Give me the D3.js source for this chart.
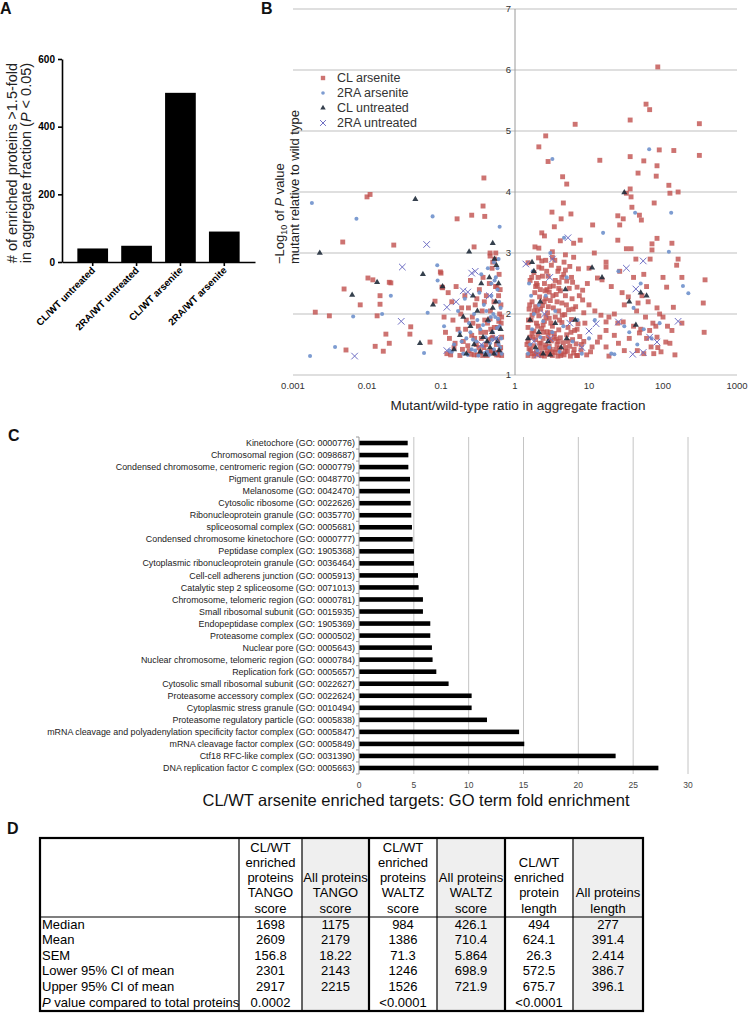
<!DOCTYPE html>
<html><head><meta charset="utf-8">
<script src="https://cdn.jsdelivr.net/npm/d3@7"></script>
<style>body{margin:0;background:#fff}svg{display:block;font-family:"Liberation Sans",Arial,Helvetica,sans-serif}</style>
</head><body><svg id="fig" width="750" height="1013"></svg>
<script>
// ---------- Panel A data ----------
const aCategories = ["CL/WT untreated","2RA/WT untreated","CL/WT arsenite","2RA/WT arsenite"];
const aValues = [40,48,500,90];
const aTicks = [0,200,400,600];

// ---------- Panel B data ([ratio, -log10 P]) ----------
const bSeriesNames = ["CL arsenite","2RA arsenite","CL untreated","2RA untreated"];
const clArsenite = [
[85,6.05],[59,5.44],[66,5.35],[36,5.18],[6.5,5.11],[310,5.12],[2.6,4.92],[2.1,4.74],[2.8,4.5],[14,4.52],[36,4.58],[55,4.51],[83,4.43],[89,4.69],[140,4.68],[310,4.6],[4.4,4.25],[5,4.13],[46,4.31],[81,4.26],[36,4.05],[120,4.11],[124,3.98],[160,4.0],[37,3.92],[0.38,4.23],[0.01,3.92],[0.011,3.96],
[0.0047,3.18],[0.165,3.56],[0.26,3.62],[0.39,3.6],[0.37,3.77],[0.023,3.13],[0.28,3.1],[0.46,3.0],[0.46,2.95],[0.1,2.67],[0.105,2.43],
[0.0052,1.41],[0.002,2.03],[0.0031,1.97],[0.0049,2.41],[0.0081,2.15],[0.0103,2.59],[0.012,2.56],[0.015,2.3],[0.015,2.16],[0.0137,1.97],[0.018,1.67],[0.02,1.52],[0.0129,1.47],[0.0166,1.39],[0.02,2.52],[0.021,2.51],[0.039,1.79],[0.038,1.67],[0.071,1.54],[0.083,2.21],[0.098,2.69],[0.103,2.44],
[4.5,3.82],[3.16,3.67],[5.7,3.64],[4.2,3.56],[3.4,3.43],[11.2,3.46],[32,3.98],[24.5,3.61],[29,3.56],[38,3.75],[48,3.62],[51,3.54],[76,3.82],[83,3.24],[71,3.15],[132,3.16],[71,3.05],[32,3.07],[37,3.07],[24.5,3.21],[26,3.46],[160,2.9],[153,2.8],[180,2.6],[370,2.56],[350,2.18],[360,1.7],[180,1.85],[138,2.11],[112,2.44],[100,2.6],[132,1.73],[124,1.52],[109,1.54],[145,1.33],[94,1.38],[83,1.62],[66,1.73],[73,1.85],[58,1.95],[83,2.1],[63,2.2],[46,2.18],[34,2.28],[29,1.87],[24.5,1.85],[48,1.69],[69,1.46],[25,1.52],[17,1.87],[17,1.73],[14.5,1.98],[18.6,1.95],[18.6,1.31],[17,1.46],[13,1.54],[14,1.62],[11,1.46],[9.3,1.33],[13,2.59],[15,2.56],[17,2.77],[17,2.85],[11.8,3.0],[10,2.75],[8.2,2.39],[10,2.15],[8.2,2.23],[8.5,2.02],
[2.3,3.33],[2.5,3.28],[1.86,3.1],[2.1,3.08],[4.1,3.2],[6.2,3.16],[7.6,3.21],[3.2,3.02],[3.2,2.93],[4.8,2.97],[6.2,2.93],[2.3,2.87],[1.5,2.84],[2.1,2.77],[3.9,2.75],[4.8,2.72],[7.2,2.74],[5,2.54],[5.8,2.6],[6.9,2.44],[3.9,2.42],[2.7,2.4],[2.0,2.47],
[40,1.8],[44,2.05],[52,2.3],[60,2.45],[30,2.15],[35,1.6],[45,1.4],[55,1.35],[75,1.35],[85,1.45],[100,1.95],[115,1.8],[60,1.6],[80,1.8],[90,2.0],[50,1.75],[28,2.35],[40,2.6],[55,2.65],[67,2.9],[43,2.9],[22,2.0],[22,1.65],[20,2.45],[26,2.7],[30,1.4],
[1.5,1.32],[1.65,1.35],[1.8,1.31],[1.95,1.38],[2.1,1.33],[2.3,1.36],[2.5,1.31],[2.7,1.4],[2.9,1.34],[3.2,1.32],[3.5,1.37],[3.8,1.31],[4.2,1.35],[4.6,1.33],[5.1,1.39],[5.6,1.31],[6.2,1.36],[7.0,1.32],[7.8,1.41],[1.55,1.43],[2.2,1.44],[3.0,1.42],[4.0,1.44],[6.8,1.32],
[1.5,1.55],[1.6,1.62],[1.75,1.48],[1.9,1.58],[2.05,1.66],[2.25,1.52],[2.4,1.6],[2.6,1.49],[2.8,1.64],[3.1,1.56],[3.4,1.68],[3.7,1.5],[4.1,1.61],[4.5,1.53],[5.0,1.66],[5.5,1.47],[6.0,1.58],[6.7,1.51],[7.5,1.63],[8.5,1.55],[1.7,1.69],[2.9,1.47],[3.6,1.59],[4.8,1.45],
[1.5,1.78],[1.65,1.9],[1.8,1.72],[1.95,1.85],[2.1,1.97],[2.3,1.76],[2.5,1.88],[2.7,1.71],[2.9,1.93],[3.2,1.8],[3.5,1.95],[3.9,1.74],[4.3,1.86],[4.7,1.99],[5.2,1.78],[5.8,1.91],[6.4,1.73],[7.1,1.84],[1.7,1.98],[2.4,1.82],[3.0,1.7],[4.0,1.9],
[1.55,2.08],[1.7,2.2],[1.85,2.35],[2.0,2.05],[2.15,2.28],[2.35,2.14],[2.55,2.38],[2.75,2.02],[3.0,2.22],[3.3,2.1],[3.6,2.32],[3.9,2.05],[4.3,2.18],[4.8,2.3],[5.3,2.07],[5.9,2.25],[6.6,2.12],[2.2,2.4],[2.9,2.36],[4.1,2.38],[1.9,2.12],[2.6,2.25],
[1.6,2.55],[1.8,2.68],[2.05,2.6],[2.3,2.75],[2.5,2.5],[2.8,2.62],[3.1,2.8],[3.5,2.55],[3.8,2.7],[4.3,2.6],[4.6,2.85],[5.5,2.78],[6.0,2.52],[1.9,2.45],[2.6,2.88],[3.3,2.46],
[1.45,1.5],[1.52,1.9],[1.58,2.15],[1.62,1.4],[1.68,2.6],[1.75,1.62],[1.82,2.05],[1.88,1.35],[1.95,2.5],[2.02,1.8],[2.08,2.92],[2.15,1.52],[2.22,2.08],[2.28,1.32],[2.35,2.62],[2.42,1.7],[2.48,2.2],[2.55,1.45],[2.62,1.95],[2.68,2.7],[2.75,1.35],[2.82,2.12],[2.88,1.58],[2.95,2.45],[3.05,1.85],[3.15,1.38],[3.25,2.3],[3.38,1.62],[3.45,2.88],[3.55,1.42],[3.7,2.2],[3.85,1.55],[3.95,2.52],[4.15,1.32],[4.35,1.98],[4.55,2.65],[4.75,1.38],[4.95,2.15],[5.2,1.55],[5.4,2.42],[5.7,1.7],[6.1,2.08],[6.3,1.42],[6.9,1.75],[7.4,2.3],[7.9,1.5],[8.8,1.85],[9.5,2.5],[10.5,1.38],[12,2.05],
[0.12,1.35],[0.13,1.6],[0.15,1.45],[0.17,1.75],[0.18,1.32],[0.2,1.55],[0.22,1.9],[0.24,1.4],[0.26,1.65],[0.28,1.33],[0.3,1.5],[0.32,1.8],[0.34,1.37],[0.36,2.05],[0.38,1.45],[0.4,1.7],[0.42,1.32],[0.44,1.58],[0.46,1.92],[0.48,1.4],[0.5,1.62],[0.52,2.2],[0.54,1.35],[0.56,1.5],[0.58,1.78],[0.6,1.33],[0.62,2.0],[0.64,1.45],[0.66,1.62],[0.11,1.95],[0.14,2.2],[0.16,2.45],[0.19,2.1],[0.21,2.3],[0.25,2.55],[0.29,2.15],[0.33,2.4],[0.37,2.6],[0.41,2.3],[0.45,2.5],[0.49,2.75],[0.53,2.9],[0.57,2.45],[0.61,2.65],[0.55,3.0],[0.5,2.85],[0.65,1.85],[0.35,1.6],[0.27,1.85],[0.23,1.48],[0.47,1.75],[0.6,2.3],[0.43,1.38],[0.31,1.33],[0.39,1.9],[0.57,1.37],[0.63,2.4],[0.66,1.95],
[0.115,1.7],[0.125,2.35],[0.135,1.33],[0.145,1.9],[0.155,1.52],[0.185,2.0],[0.195,1.42],[0.215,1.75],[0.235,2.1],[0.255,1.34],[0.265,1.95],[0.285,1.6],[0.305,2.25],[0.325,1.45],[0.345,1.7],[0.365,1.32],[0.385,2.2],[0.405,1.5],[0.425,1.85],[0.445,1.36],[0.465,2.05],[0.485,1.6],[0.505,1.38],[0.525,1.78],[0.545,2.45],[0.565,1.33],[0.585,1.58],[0.605,1.88],[0.625,1.4],[0.645,2.15],[0.66,1.32]
];
const ra2Arsenite = [
[0.0018,3.82],[0.0072,3.56],[0.077,3.6],[3.2,4.54],[65,4.7],[15.5,3.33],[42,3.66],[129,3.66],[120,3.02],[186,2.46],[220,2.34],[35,1.7],[22,1.34],[1.74,2.7],[0.0017,1.31],[0.0037,1.46],[0.0065,1.96],[0.016,2.0],[0.021,2.3],[0.059,1.36],[0.066,2.02],[0.089,2.8],
[0.62,3.43],[0.6,2.9],[0.58,2.75],[0.55,2.6],[0.52,2.85],[0.48,2.5],[0.09,2.55],
[0.15,1.5],[0.18,1.7],[0.2,1.35],[0.22,1.6],[0.24,1.85],[0.26,1.42],[0.28,2.0],[0.3,1.55],[0.32,1.32],[0.34,1.75],[0.36,1.48],[0.38,2.15],[0.4,1.62],[0.42,1.38],[0.44,1.88],[0.46,1.52],[0.48,2.3],[0.5,1.7],[0.52,1.42],[0.54,1.95],[0.56,1.6],[0.58,2.4],[0.6,1.5],[0.62,1.8],[0.64,2.1],[0.66,1.35],[0.13,1.4],[0.17,2.05],[0.21,2.25],[0.25,1.7],[0.29,1.4],[0.33,2.35],[0.37,1.82],[0.41,2.05],[0.45,1.33],[0.49,1.58],[0.53,2.55],[0.57,1.77],[0.61,2.2],[0.65,1.6],[0.55,1.35],[0.47,1.95],[0.39,1.36],[0.31,1.9],[0.35,2.65],[0.43,2.75],[0.51,2.0],[0.59,1.92],[0.63,1.45],[0.27,1.58],[0.23,1.33],[0.19,1.55],[0.11,1.8],[0.14,1.38],
[1.5,1.35],[1.6,1.5],[1.7,1.75],[1.8,2.0],[2.0,1.4],[2.2,1.62],[2.4,1.88],[2.6,2.3],[2.9,1.45],[3.2,1.7],[3.5,2.05],[4.0,1.38],[4.5,1.8],[5.0,2.6],[6.0,1.55],[7.0,1.9],[1.55,2.5],[2.1,2.15],[3.0,3.0],[8.0,1.35],[10,1.6],[12,1.9],[20,1.35],[30,1.8],[40,2.1],[50,2.5],[55,1.75],[70,1.6],[90,1.85],[45,1.5],[1.65,2.3],[4.6,3.25],[25,2.7]
];
const clUntreated = [
[30,3.99],[0.045,3.88],[0.0023,3.0],[0.0063,2.31],[0.0137,2.52],[0.052,1.52],[0.057,2.65],[0.078,2.15],[0.105,2.45],[0.24,3.02],[0.5,3.16],
[0.15,1.42],[0.18,1.65],[0.22,1.35],[0.25,1.8],[0.28,1.5],[0.31,2.05],[0.34,1.38],[0.37,1.62],[0.4,1.33],[0.43,1.9],[0.46,1.45],[0.49,1.7],[0.52,1.35],[0.55,2.2],[0.58,1.55],[0.61,1.4],[0.64,1.75],[0.27,2.3],[0.35,2.5],[0.45,2.6],[0.5,2.1],[0.2,1.95],[0.6,2.5],[0.42,1.55],[0.56,2.8],[0.53,2.9],
[1.6,1.9],[1.9,1.45],[2.1,1.7],[2.4,1.35],[2.8,1.55],[3.5,1.85],[4.2,1.45],[1.8,2.7],[2.2,2.2],[3.0,1.33],[5,1.6],[6.5,1.9],[4.8,2.4],[11,2.76],[43,1.82],[50,2.35],[60,2.3],[35,2.2],[1.5,1.6],[15,2.6],[1.7,2.85]
];
const ra2Untreated = [
[0.064,3.14],[0.03,2.77],[0.029,1.88],[0.0068,1.31],[54,2.87],[32,2.75],[43,2.41],[160,1.88],[39,1.34],[54,1.37],[66,1.62],[83,1.54],[25,1.87],[12.5,1.84],[10,1.72],[5.2,3.25],[3.2,2.9],[1.4,2.82],[2.95,2.6],
[0.26,2.67],[0.29,2.7],[0.12,2.11],[0.23,2.36],[0.2,2.38],[0.16,2.2],[0.45,2.3],[0.12,1.4],[0.55,1.6],[0.35,1.5],[2.0,1.33],[3.0,1.6],[5.5,1.85],[8,1.45],[2.5,2.0],[1.8,1.55]
];
const bXTicks = [0.001,0.01,0.1,1,10,100,1000];
const bXTickLabels = ["0.001","0.01","0.1","1","10","100","1000"];
const bYTicks = [1,2,3,4,5,6,7];

// ---------- Panel C data ----------
const goTerms = [
"Kinetochore (GO: 0000776)","Chromosomal region (GO: 0098687)","Condensed chromosome, centromeric region (GO: 0000779)","Pigment granule (GO: 0048770)","Melanosome (GO: 0042470)","Cytosolic ribosome (GO: 0022626)","Ribonucleoprotein granule (GO: 0035770)","spliceosomal complex (GO: 0005681)","Condensed chromosome kinetochore (GO: 0000777)","Peptidase complex (GO: 1905368)","Cytoplasmic ribonucleoprotein granule (GO: 0036464)","Cell-cell adherens junction (GO: 0005913)","Catalytic step 2 spliceosome (GO: 0071013)","Chromosome, telomeric region (GO: 0000781)","Small ribosomal subunit (GO: 0015935)","Endopeptidase complex (GO: 1905369)","Proteasome complex (GO: 0000502)","Nuclear pore (GO: 0005643)","Nuclear chromosome, telomeric region (GO: 0000784)","Replication fork (GO: 0005657)","Cytosolic small ribosomal subunit (GO: 0022627)","Proteasome accessory complex (GO: 0022624)","Cytoplasmic stress granule (GO: 0010494)","Proteasome regulatory particle (GO: 0005838)","mRNA cleavage and polyadenylation specificity factor complex (GO: 0005847)","mRNA cleavage factor complex (GO: 0005849)","Ctf18 RFC-like complex (GO: 0031390)","DNA replication factor C complex (GO: 0005663)"];
const goFold = [4.44,4.5,4.5,4.65,4.65,4.71,4.77,4.83,4.89,5.01,5.01,5.38,5.44,5.83,5.83,6.5,6.5,6.65,6.71,7.05,8.17,10.27,10.27,11.67,14.6,15.07,23.4,27.3];
const cTicks = [0,5,10,15,20,25,30];

// ---------- Panel D data ----------
const dHeaders = [[],["CL/WT","enriched","proteins","TANGO","score"],["All proteins","TANGO","score"],["CL/WT","enriched","proteins","WALTZ","score"],["All proteins","WALTZ","score"],["CL/WT","enriched","protein","length"],["All proteins","length"]];
const dRowLabels = ["Median","Mean","SEM","Lower 95% CI of mean","Upper 95% CI of mean","P value compared to total proteins"];
const tangoEnriched = ["1698","2609","156.8","2301","2917","0.0002"];
const tangoAll = ["1175","2179","18.22","2143","2215",""];
const waltzEnriched = ["984","1386","71.3","1246","1526","<0.0001"];
const waltzAll = ["426.1","710.4","5.864","698.9","721.9",""];
const lengthEnriched = ["494","624.1","26.3","572.5","675.7","<0.0001"];
const lengthAll = ["277","391.4","2.414","386.7","396.1",""];

const svg = d3.select("#fig");

// panel letters
[["A",0,14],["B",261,14],["C",8,441],["D",7,834]].forEach(([t,x,y])=>{
  svg.append("text").attr("x",x).attr("y",y).attr("font-size",16).attr("font-weight","bold").attr("fill","#111").text(t);
});

// ================= Panel A =================
{
  const g = svg.append("g");
  const y = d3.scaleLinear().domain([0,600]).range([262,59]);
  const x = d3.scaleBand().domain(aCategories).range([62,255]).paddingInner(0.3).paddingOuter(0.35);
  g.selectAll("rect").data(aValues).join("rect")
    .attr("x",(d,i)=>x(aCategories[i])).attr("width",x.bandwidth())
    .attr("y",d=>y(d)).attr("height",d=>y(0)-y(d)).attr("fill","#000");
  const ya = g.append("g").attr("transform","translate(62,0)")
    .call(d3.axisLeft(y).tickValues(aTicks).tickSize(4).tickSizeOuter(0).tickPadding(3));
  ya.selectAll("text").attr("font-size",10).attr("font-weight","bold").attr("font-family","Liberation Sans, Arial").attr("fill","#000");
  ya.selectAll("line,path").attr("stroke","#000").attr("stroke-width",1.6);
  const xa = g.append("g").attr("transform","translate(0,262)")
    .call(d3.axisBottom(x).tickSize(4).tickSizeOuter(0));
  xa.selectAll("line,path").attr("stroke","#000").attr("stroke-width",1.6);
  xa.selectAll("text").attr("font-size",9.8).attr("font-weight","bold").attr("font-family","Liberation Sans, Arial").attr("fill","#000")
    .attr("text-anchor","end").attr("dy",0).attr("y",0)
    .attr("transform","translate(3,9) rotate(-45)");
  const t = g.append("text").attr("transform","translate(17,163) rotate(-90)").attr("text-anchor","middle").attr("font-size",14.5).attr("fill","#222");
  t.text("# of enriched proteins >1.5-fold");
  const t2 = g.append("text").attr("transform","translate(31,163) rotate(-90)").attr("text-anchor","middle").attr("font-size",14.5).attr("fill","#222");
  t2.append("tspan").text("in aggregate fraction (");
  t2.append("tspan").attr("font-style","italic").text("P");
  t2.append("tspan").text(" < 0.05)");
}

// ================= Panel B =================
{
  const g = svg.append("g");
  const x = d3.scaleLog().domain([0.001,1000]).range([293,737]);
  const y = d3.scaleLinear().domain([1,7]).range([375,9]);
  g.selectAll("line.grid").data(bYTicks).join("line").attr("class","grid")
    .attr("x1",293).attr("x2",737).attr("y1",d=>y(d)).attr("y2",d=>y(d))
    .attr("stroke","#bfbfbf").attr("stroke-width",1);
  g.append("line").attr("x1",x(1)).attr("x2",x(1)).attr("y1",y(7)).attr("y2",y(1)).attr("stroke","#9a9a9a");
  g.selectAll("text.yt").data(bYTicks).join("text").attr("class","yt")
    .attr("x",x(1)-4).attr("y",d=>y(d)).attr("dy","0.35em").attr("text-anchor","end")
    .attr("font-size",9.5).attr("fill","#333").text(d=>d);
  g.selectAll("text.xt").data(bXTicks).join("text").attr("class","xt")
    .attr("x",d=>x(d)).attr("y",y(1)+14).attr("text-anchor","middle")
    .attr("font-size",9.5).attr("fill","#333").text((d,i)=>bXTickLabels[i]);

  const series = [
    {data:clArsenite, sym:d3.symbolSquare, size:24, fill:"#c0504d", stroke:"none", op:0.8},
    {data:ra2Arsenite, sym:d3.symbolCircle, size:13, fill:"#6f91cc", stroke:"none", op:0.9},
    {data:clUntreated, sym:d3.symbolTriangle, size:16, fill:"#1f2b3a", stroke:"none", op:0.9},
    {data:ra2Untreated, sym:d3.symbolX, size:30, fill:"none", stroke:"#6f6fc4", op:1}
  ];
  series.forEach(s=>{
    g.append("g").selectAll("path").data(s.data).join("path")
      .attr("transform",d=>`translate(${x(d[0])},${y(d[1])})`)
      .attr("d",d3.symbol(s.sym,s.size)())
      .attr("fill",s.fill).attr("stroke",s.stroke).attr("stroke-width",1).attr("opacity",s.op);
  });
  // legend
  series.forEach((s,i)=>{
    const ly = 78 + i*15;
    g.append("path").attr("transform",`translate(323,${ly})`).attr("d",d3.symbol(s.sym,s.size*0.8)())
      .attr("fill",s.fill).attr("stroke",s.stroke).attr("opacity",s.op);
    g.append("text").attr("x",337).attr("y",ly).attr("dy","0.35em").attr("font-size",12.5).attr("fill","#333").text(bSeriesNames[i]);
  });
  g.append("text").attr("x",518).attr("y",410).attr("text-anchor","middle").attr("font-size",13.5).attr("fill","#222")
    .text("Mutant/wild-type ratio in aggregate fraction");
  const t = g.append("text").attr("transform","translate(284,264) rotate(-90)").attr("font-size",13).attr("fill","#222");
  t.append("tspan").text("\u2212Log");
  t.append("tspan").attr("font-size",9).attr("dy",3).text("10");
  t.append("tspan").attr("dy",-3).text(" of ");
  t.append("tspan").attr("font-style","italic").text("P");
  t.append("tspan").text(" value");
  g.append("text").attr("transform","translate(299,264) rotate(-90)").attr("font-size",13).attr("fill","#222")
    .text("mutant relative to wild type");
}

// ================= Panel C =================
{
  const g = svg.append("g");
  const x = d3.scaleLinear().domain([0,30]).range([359,688]);
  const y = d3.scaleBand().domain(goTerms).range([437,774]).paddingInner(0.62).paddingOuter(0.31);
  g.selectAll("line.grid").data(cTicks.slice(1)).join("line").attr("class","grid")
    .attr("x1",d=>x(d)).attr("x2",d=>x(d)).attr("y1",437).attr("y2",774)
    .attr("stroke","#c4c4c4").attr("stroke-width",1);
  g.selectAll("rect").data(goFold).join("rect")
    .attr("x",x(0)).attr("y",(d,i)=>y(goTerms[i])).attr("height",y.bandwidth())
    .attr("width",d=>x(d)-x(0)).attr("fill","#000");
  g.append("line").attr("x1",x(0)).attr("x2",x(0)).attr("y1",437).attr("y2",774).attr("stroke","#9a9a9a");
  const step = y.step();
  g.selectAll("line.tk").data(d3.range(goTerms.length+1)).join("line").attr("class","tk")
    .attr("x1",x(0)-3).attr("x2",x(0)).attr("y1",d=>437+d*step).attr("y2",d=>437+d*step).attr("stroke","#9a9a9a");
  g.selectAll("text.lab").data(goTerms).join("text").attr("class","lab")
    .attr("x",355).attr("y",d=>y(d)+y.bandwidth()/2).attr("dy","0.35em").attr("text-anchor","end")
    .attr("font-size",8.9).attr("fill","#222").text(d=>d);
  g.selectAll("text.xt").data(cTicks).join("text").attr("class","xt")
    .attr("x",d=>x(d)).attr("y",788).attr("text-anchor","middle").attr("font-size",8.5).attr("fill","#444").text(d=>d);
  g.append("text").attr("x",416).attr("y",806).attr("text-anchor","middle").attr("font-size",16.5).attr("fill","#111")
    .text("CL/WT arsenite enriched targets: GO term fold enrichment");
}

// ================= Panel D =================
{
  const g = svg.append("g");
  const colX = [40,239,302,369,437,505,573,643];
  const top = 838, bottom = 1011, headBottom = 917;
  const cols = [tangoEnriched,tangoAll,waltzEnriched,waltzAll,lengthEnriched,lengthAll];
  [2,4,6].forEach(c=>{
    g.append("rect").attr("x",colX[c]).attr("y",top).attr("width",colX[c+1]-colX[c]).attr("height",bottom-top).attr("fill","#efefef");
  });
  g.append("line").attr("x1",colX[0]).attr("x2",colX[7]).attr("y1",headBottom).attr("y2",headBottom).attr("stroke","#000").attr("stroke-width",1.2);
  colX.slice(1,-1).forEach((cx,i)=>{
    g.append("line").attr("x1",cx).attr("x2",cx).attr("y1",top).attr("y2",bottom).attr("stroke","#000").attr("stroke-width",(i===2||i===4)?2.2:1.2);
  });
  g.append("rect").attr("x",colX[0]).attr("y",top).attr("width",colX[7]-colX[0]).attr("height",bottom-top)
    .attr("fill","none").attr("stroke","#000").attr("stroke-width",2.2);
  dHeaders.forEach((lines,c)=>{
    if(!lines.length) return;
    const cx = (colX[c]+colX[c+1])/2;
    lines.forEach((ln,k)=>{
      g.append("text").attr("x",cx).attr("y",908-(lines.length-1-k)*15.2).attr("dy","0.35em").attr("text-anchor","middle")
        .attr("font-size",13).attr("fill","#000").text(ln);
    });
  });
  const rowY = i => 924 + i*15.6;
  dRowLabels.forEach((lab,i)=>{
    const t = g.append("text").attr("x",42).attr("y",rowY(i)).attr("dy","0.35em").attr("font-size",13).attr("fill","#000");
    if(i===dRowLabels.length-1){
      t.append("tspan").attr("font-style","italic").text("P");
      t.append("tspan").text(lab.slice(1));
    } else t.text(lab);
  });
  cols.forEach((vals,c)=>{
    const cx = (colX[c+1]+colX[c+2])/2;
    vals.forEach((v,i)=>{
      g.append("text").attr("x",cx).attr("y",rowY(i)).attr("dy","0.35em").attr("text-anchor","middle")
        .attr("font-size",13).attr("fill","#000").text(v);
    });
  });
}
</script>
</body></html>
